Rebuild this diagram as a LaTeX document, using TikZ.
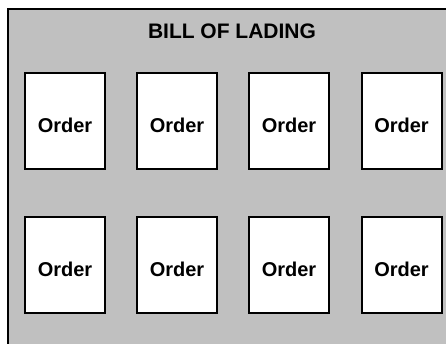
\documentclass[tikz,border=0pt]{standalone}
\usepackage{fontspec}
\setmainfont{Liberation Sans}
\definecolor{bgray}{RGB}{192,192,192}
\begin{document}
\begin{tikzpicture}[x=1pt,y=1pt,
  orderbox/.style={draw=black,line width=2pt,fill=white,minimum width=80pt,minimum height=96pt,inner sep=0pt,
    font=\fontsize{20}{24}\selectfont\bfseries,text height=22pt,text depth=0pt}]
\useasboundingbox (0,0) rectangle (446,343);
\clip (0,0) rectangle (446,343);
\draw[line width=2pt,fill=bgray] (8.3,334) rectangle (460,-20);
\node[anchor=base,font=\fontsize{21}{25}\selectfont\bfseries] (title) at (232,304) {BILL OF LADING};
\foreach \i/\x in {1/65,2/177,3/289,4/401.5}{
  \node[orderbox] (a\i) at (\x,222) {Order};
  \node[orderbox] (b\i) at (\x,78) {Order};
}
\end{tikzpicture}
\end{document}
